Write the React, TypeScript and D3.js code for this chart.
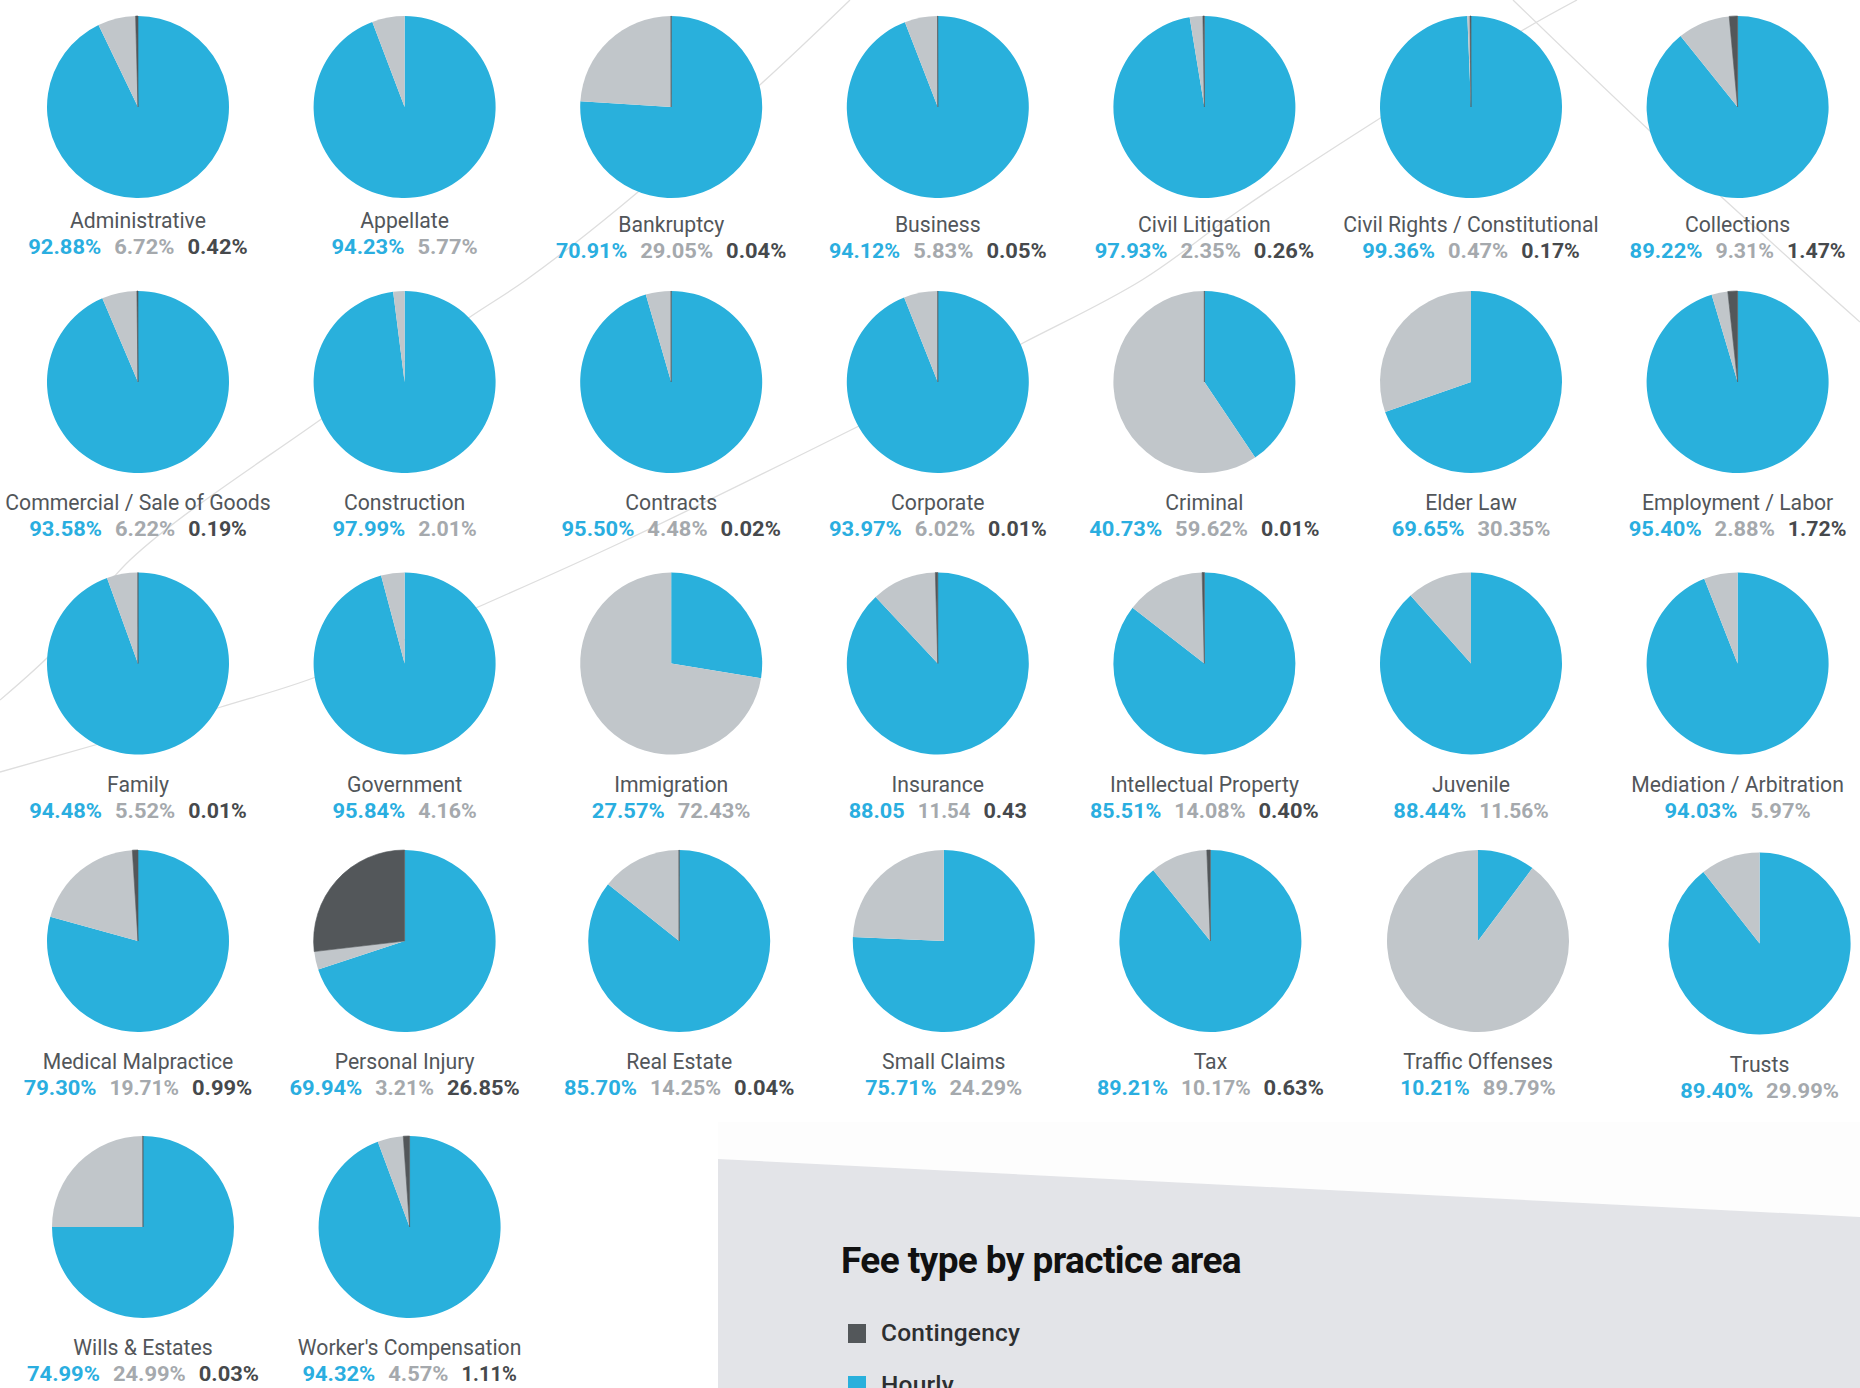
import React from "react";
import * as d3 from "d3";

// ---------- data ----------
const practiceAreas = [
  "Administrative", "Appellate", "Bankruptcy", "Business", "Civil Litigation", "Civil Rights / Constitutional", "Collections",
  "Commercial / Sale of Goods", "Construction", "Contracts", "Corporate", "Criminal", "Elder Law", "Employment / Labor",
  "Family", "Government", "Immigration", "Insurance", "Intellectual Property", "Juvenile", "Mediation / Arbitration",
  "Medical Malpractice", "Personal Injury", "Real Estate", "Small Claims", "Tax", "Traffic Offenses", "Trusts",
  "Wills & Estates", "Worker's Compensation",
];

// printed figures
const hourly = [
  92.88, 94.23, 70.91, 94.12, 97.93, 99.36, 89.22,
  93.58, 97.99, 95.5, 93.97, 40.73, 69.65, 95.4,
  94.48, 95.84, 27.57, 88.05, 85.51, 88.44, 94.03,
  79.3, 69.94, 85.7, 75.71, 89.21, 10.21, 89.4,
  74.99, 94.32,
];

const flat = [
  6.72, 5.77, 29.05, 5.83, 2.35, 0.47, 9.31,
  6.22, 2.01, 4.48, 6.02, 59.62, 30.35, 2.88,
  5.52, 4.16, 72.43, 11.54, 14.08, 11.56, 5.97,
  19.71, 3.21, 14.25, 24.29, 10.17, 89.79, 29.99,
  24.99, 4.57,
];

const contingency: (number | null)[] = [
  0.42, null, 0.04, 0.05, 0.26, 0.17, 1.47,
  0.19, null, 0.02, 0.01, 0.01, null, 1.72,
  0.01, null, null, 0.43, 0.4, null, null,
  0.99, 26.85, 0.04, null, 0.63, null, null,
  0.03, 1.11,
];

// pies whose drawn wedges differ from the printed figures: [hourly, flat, contingency]
const drawnShares: Record<string, [number, number, number]> = {
  Bankruptcy: [76.0, 23.96, 0.04],
  Trusts: [89.4, 10.6, 0],
};

// areas whose figures are printed without a percent sign
const noPercent = ["Insurance"];

const legendItems = ["Contingency", "Hourly"];
const titleText = "Fee type by practice area";

// background decorative polylines
const bgLineA: [number, number][] = [
  [850, 0], [762, 83], [620, 207], [526, 280], [470, 317], [320, 420], [130, 560], [60, 645], [0, 700],
];
const bgLineB: [number, number][] = [
  [1577, 0], [1523, 30], [1382, 117], [1240, 210], [1142, 280], [1023, 343], [861, 425], [620, 543],
  [478, 607], [316, 677], [221, 707], [95, 745], [0, 772],
];
const bgLineC: [number, number][] = [
  [1513, 0], [1651, 132], [1813, 280], [1860, 322],
];

// ---------- styles / layout ----------
const BLUE = "#29b0dc";
const LIGHT = "#c1c6ca";
const DARK = "#53575a";
const W = 1860;
const H = 1388;
const R = 91;

const colX = d3.scaleLinear().domain([0, 6]).range([138, 1737.6]);
const rowY = [107, 382, 663.5, 941, 1227];
const labelOff = (row: number, col: number) => (row === 0 ? (col < 2 ? 121 : 124.5) : 128);
const valueOff = (row: number, col: number) => (row === 0 ? (col < 2 ? 146.5 : 150.5) : 154);
const nudgeX: Record<number, number[]> = { 3: [0, 0, 8, 6, 6, 7, 22], 4: [5, 5] };
const nudgeY: Record<number, number[]> = { 3: [0, 0, 0, 0, 0, 0, 2.5] };

type Slice = { key: string; v: number };
const pieGen = d3
  .pie<Slice>()
  .sort(null)
  .value((d) => d.v)
  .startAngle(0)
  .endAngle(2 * Math.PI);
const arcGen = d3.arc<d3.PieArcDatum<Slice>>().innerRadius(0).outerRadius(R);

const colorOf: Record<string, string> = { hourly: BLUE, flat: LIGHT, contingency: DARK };
const textColor: Record<string, string> = { hourly: "#2aaee0", flat: "#a5a9ad", contingency: "#46494c" };

const lineGen = d3.line().curve(d3.curveCatmullRom.alpha(0.5));

function Values({ items, y }: { items: { key: string; text: string }[]; y: number }) {
  const fs = 21;
  const charW = (c: string) => (c === "." ? 0.27 : c === "%" ? 0.8 : c === "1" ? 0.52 : 0.6) * fs;
  const widths = items.map((it) => d3.sum(it.text.split(""), charW));
  const gap = 13;
  const total = d3.sum(widths) + gap * (items.length - 1);
  let x = -total / 2;
  return (
    <g>
      {items.map((it, i) => {
        const tx = x;
        x += widths[i] + gap;
        return (
          <text
            key={it.key}
            x={tx + widths[i] / 2}
            y={y}
            textAnchor="middle"
            fontSize={fs}
            fontWeight={700}
            fill={textColor[it.key]}
            textLength={widths[i]}
            lengthAdjust="spacingAndGlyphs"
          >
            {it.text}
          </text>
        );
      })}
    </g>
  );
}

export default function App() {
  return (
    <svg
      width={W}
      height={H}
      viewBox={`0 0 ${W} ${H}`}
      style={{ position: "absolute", left: 0, top: 0, background: "#ffffff", fontFamily: "Roboto, 'Noto Sans', sans-serif" }}
    >
      <rect x={0} y={0} width={W} height={H} fill="#ffffff" />
      {[bgLineA, bgLineB, bgLineC].map((pts, i) => (
        <path key={i} d={lineGen(pts) || ""} fill="none" stroke="#dedede" strokeWidth={1.3} />
      ))}

      {/* legend panel */}
      <polygon points="718,1122 1860,1122 1860,1217 718,1159" fill="#fdfdfd" />
      <polygon points="718,1159 1860,1217 1860,1388 718,1388" fill="#e3e4e8" />

      {practiceAreas.map((name, i) => {
        const row = Math.floor(i / 7);
        const col = i % 7;
        const cx = colX(col) + ((nudgeX[row] && nudgeX[row][col]) || 0);
        const cy = rowY[row] + ((nudgeY[row] && nudgeY[row][col]) || 0);
        const drawn = drawnShares[name];
        const hv = drawn ? drawn[0] : hourly[i];
        const fv = drawn ? drawn[1] : flat[i];
        const cv = drawn ? drawn[2] : contingency[i] ?? 0;
        const slices: Slice[] = [
          { key: "hourly", v: hv },
          { key: "flat", v: fv },
          ...(cv > 0 ? [{ key: "contingency", v: cv }] : []),
        ];
        const arcs = pieGen(slices);
        const suffix = noPercent.includes(name) ? "" : "%";
        const valueItems = [
          { key: "hourly", text: hourly[i].toFixed(2) + suffix },
          { key: "flat", text: flat[i].toFixed(2) + suffix },
          ...(contingency[i] != null ? [{ key: "contingency", text: (contingency[i] as number).toFixed(2) + suffix }] : []),
        ];
        return (
          <g key={name} transform={`translate(${cx},${cy})`}>
            {arcs.map((a) => (
              <path
                key={a.data.key}
                d={arcGen(a) || ""}
                fill={colorOf[a.data.key]}
                stroke={a.data.key === "contingency" ? DARK : "none"}
                strokeWidth={a.data.key === "contingency" ? 0.6 : 0}
              />
            ))}
            <text x={0} y={labelOff(row, col)} textAnchor="middle" fontSize={21.2} fontWeight={400} fill="#52565a">
              {name}
            </text>
            <Values items={valueItems} y={valueOff(row, col)} />
          </g>
        );
      })}

      {/* legend */}
      <text x={841} y={1273} fontSize={37} fontWeight={700} fill="#111" letterSpacing={-0.6}>
        {titleText}
      </text>
      {legendItems.map((lab, i) => (
        <g key={lab} transform={`translate(848,${1324 + i * 52})`}>
          <rect x={0} y={0} width={18} height={19} fill={lab === "Contingency" ? DARK : BLUE} />
          <text x={33} y={17} fontSize={24.5} fontWeight={500} fill="#2d2f31" letterSpacing={0.2}>
            {lab}
          </text>
        </g>
      ))}
    </svg>
  );
}
